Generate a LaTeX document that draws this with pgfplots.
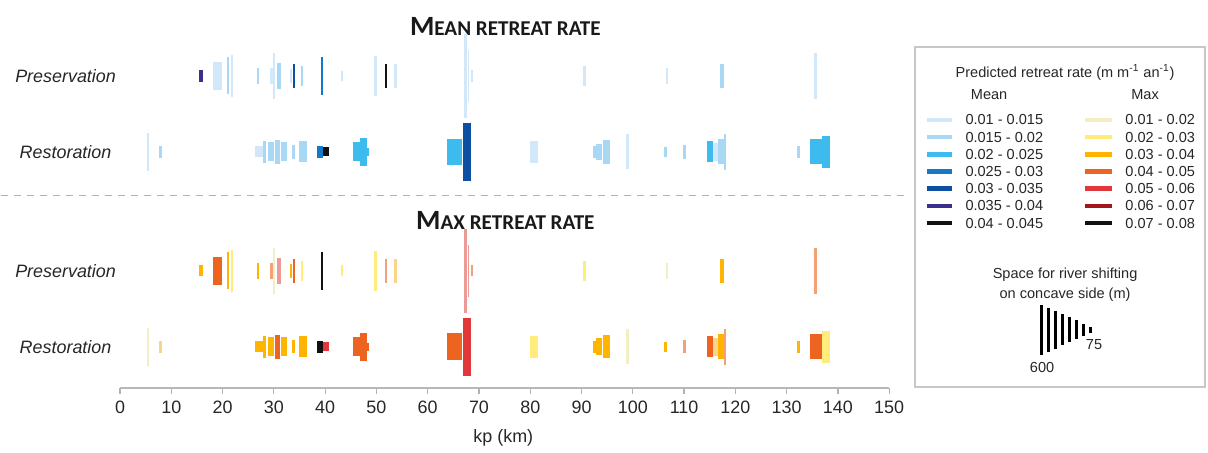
\documentclass[border=0pt]{standalone}
\usepackage{fontspec}
\setmainfont{Liberation Sans}
\newfontfamily\titlefont{Carlito}
\usepackage{pgfplots}
\usepackage{pgfplotstable}
\pgfplotsset{compat=1.18}

% retreat-rate classes, mean (blues) and max (yellow to red)
\definecolor{meanA}{HTML}{D2E8F8}
\definecolor{meanB}{HTML}{A9D8F4}
\definecolor{meanC}{HTML}{3DBAEE}
\definecolor{meanD}{HTML}{1479C9}
\definecolor{meanE}{HTML}{0D4FA0}
\definecolor{meanF}{HTML}{3B2F8C}
\definecolor{meanG}{HTML}{111111}
\definecolor{maxA}{HTML}{F4EEC4}
\definecolor{maxB}{HTML}{FFEC7A}
\definecolor{maxC}{HTML}{FFB400}
\definecolor{maxD}{HTML}{EC6420}
\definecolor{maxE}{HTML}{E0383A}
\definecolor{maxF}{HTML}{A3141B}
\definecolor{maxG}{HTML}{111111}
\definecolor{maxCl}{HTML}{F9D58A}
\definecolor{maxDl}{HTML}{F2A07A}
\definecolor{maxEl}{HTML}{EC9A95}

% reaches: start/end kp (km), space for shifting (m), class of mean and max rate
\pgfplotstableread{
x0 x1 space mean max
15.46 16.24 135 meanF maxC
18.19 19.88 340 meanA maxD
20.80 21.31 445 meanB maxC
21.70 22.03 505 meanA maxB
26.76 27.15 200 meanB maxC
29.24 29.77 190 meanA maxDl
29.86 30.25 560 meanA maxA
30.64 31.42 320 meanB maxEl
33.08 33.47 160 meanA maxC
33.78 34.17 290 meanE maxD
35.34 35.73 240 meanB maxB
39.24 39.57 455 meanD maxG
43.12 43.52 130 meanA maxB
49.51 50.15 480 meanA maxB
51.71 52.09 280 meanG maxDl
53.41 54.05 295 meanA maxCl
67.06 67.58 1000 meanA maxEl
67.78 68.15 630 meanA maxEl
68.36 68.87 135 meanA maxDl
90.20 90.78 240 meanA maxB
106.40 106.80 200 meanA maxA
117.10 117.74 280 meanB maxC
135.34 135.93 560 meanA maxDl
}\preservation

\pgfplotstableread{
x0 x1 space mean max
5.20 5.65 450 meanA maxA
7.66 8.19 140 meanB maxCl
26.32 27.82 130 meanA maxC
27.93 28.46 270 meanB maxC
28.91 30.02 230 meanB maxC
30.21 31.19 290 meanB maxD
31.33 32.61 230 meanB maxC
33.47 34.17 160 meanB maxC
34.95 36.51 250 meanB maxC
38.46 39.51 140 meanD maxG
39.63 40.80 110 meanG maxE
45.36 46.78 230 meanC maxD
46.78 48.19 340 meanC maxD
48.19 48.58 100 meanC maxD
63.80 66.71 320 meanC maxD
66.92 68.36 700 meanE maxE
79.92 81.42 270 meanA maxB
92.26 92.79 140 meanB maxC
92.79 93.90 200 meanB maxC
94.21 95.52 280 meanB maxC
98.64 99.28 420 meanA maxA
106.08 106.74 125 meanB maxC
109.81 110.33 160 meanB maxDl
114.48 115.65 250 meanC maxD
115.65 116.63 210 meanA maxCl
116.63 117.74 300 meanB maxC
117.74 118.13 430 meanB maxDl
132.09 132.67 150 meanB maxC
134.50 136.96 300 meanC maxD
136.96 138.40 380 meanC maxB
}\restoration

% size key: bar positions and space for shifting (m)
\pgfplotstableread{
x0 x1 space colour
1040.0 1043.0 600 black
1047.0 1050.0 525 black
1054.0 1057.0 450 black
1061.0 1064.0 375 black
1068.0 1071.0 300 black
1075.0 1078.0 225 black
1082.0 1085.0 150 black
1089.0 1092.0 75 black
}\sizekey

% one filled bar per reach, centred on the row; 12 m of space per unit of height
\newcommand\drawrow[3]{%
  \pgfplotstablegetrowsof{#1}%
  \pgfmathtruncatemacro\lastrow{\pgfplotsretval-1}%
  \pgfplotsforeachungrouped \rowi in {0,...,\lastrow}{%
    \pgfplotstablegetelem{\rowi}{x0}\of{#1}\let\xa\pgfplotsretval
    \pgfplotstablegetelem{\rowi}{x1}\of{#1}\let\xb\pgfplotsretval
    \pgfplotstablegetelem{\rowi}{space}\of{#1}\let\spc\pgfplotsretval
    \pgfplotstablegetelem{\rowi}{#3}\of{#1}\let\barcol\pgfplotsretval
    \pgfmathsetmacro\ylo{#2-\spc/24}%
    \pgfmathsetmacro\yhi{#2+\spc/24}%
    \edef\doplot{\noexpand\addplot[draw=none, fill=\barcol, forget plot]
      coordinates {(\xa,\ylo) (\xb,\ylo) (\xb,\yhi) (\xa,\yhi)};}%
    \doplot
  }%
}

\begin{document}
\begin{tikzpicture}[x=0.5bp, y=0.5bp]
\path (0,0) rectangle (1208,450);

\begin{axis}[
  at={(59.75bp,31bp)}, anchor=south west,
  scale only axis, width=384.75bp, height=194bp,
  xmin=0, xmax=150, ymin=62, ymax=450,
  clip=false,
  axis y line=none, ytick=\empty,
  axis x line*=bottom,
  x axis line style={-, draw=black!28, line width=0.9bp},
  xtick={0,10,...,150},
  xtick align=outside,
  major tick length=3bp,
  tick style={draw=black!30, line width=0.6bp},
  xticklabel style={font=\fontsize{9}{10}\selectfont, text=black!85},
  /pgf/number format/assume math mode=true,
]
\drawrow{\preservation}{374}{mean}
\drawrow{\restoration}{298}{mean}
\drawrow{\preservation}{179}{max}
\drawrow{\restoration}{103}{max}
\end{axis}

% x label, panel titles, row names, separator
\node[font=\fontsize{9}{10}\selectfont, text=black!85] at (503,12) {kp (km)};
\node[text=black!90] at (505,424) {\titlefont\bfseries\fontsize{14}{15}\selectfont M\fontsize{10.6}{12}\selectfont EAN RETREAT RATE};
\node[text=black!90] at (505,229) {\titlefont\bfseries\fontsize{14}{15}\selectfont M\fontsize{10.6}{12}\selectfont AX RETREAT RATE};
\foreach \yy/\txt in {374/Preservation, 298/Restoration, 179/Preservation, 103/Restoration}
  \node[font=\itshape\fontsize{9}{10}\selectfont, text=black!85] at (65,\yy) {\txt};
\draw[black!30, line width=0.6bp, dash pattern=on 3.5bp off 3bp] (0,254) -- (905,254);

% colour key
\draw[black!22, line width=0.7bp] (915,63) rectangle (1205,403);
\begin{scope}[every node/.style={font=\fontsize{7.3}{8}\selectfont, text=black!85}]
\node at (1065,377) {Predicted retreat rate (m m\textsuperscript{-1} an\textsuperscript{-1})};
\node at (989,355) {Mean};
\node at (1145,355) {Max};
\foreach \c/\t [count=\i] in {meanA/0.01 - 0.015, meanB/0.015 - 0.02, meanC/0.02 - 0.025,
    meanD/0.025 - 0.03, meanE/0.03 - 0.035, meanF/0.035 - 0.04, meanG/0.04 - 0.045}{
  \draw[\c, line width=2.2bp] (927,347.2-17.2*\i) -- (952,347.2-17.2*\i);
  \node[anchor=west, inner sep=0pt] at (965,347.2-17.2*\i) {\t};
}
\foreach \c/\t [count=\i] in {maxA/0.01 - 0.02, maxB/0.02 - 0.03, maxC/0.03 - 0.04,
    maxD/0.04 - 0.05, maxE/0.05 - 0.06, maxF/0.06 - 0.07, maxG/0.07 - 0.08}{
  \draw[\c, line width=2.2bp] (1085,347.2-17.2*\i) -- (1112,347.2-17.2*\i);
  \node[anchor=west, inner sep=0pt] at (1125,347.2-17.2*\i) {\t};
}
\node at (1065,175) {Space for river shifting};
\node at (1065,155) {on concave side (m)};
\node at (1042,82) {600};
\node at (1094,105) {75};
\end{scope}

% size key bars
\begin{axis}[
  at={(518bp,42.5bp)}, anchor=south west,
  scale only axis, width=29bp, height=35bp,
  xmin=1036, xmax=1094, ymin=85, ymax=155,
  hide axis, clip=false,
]
\drawrow{\sizekey}{120}{colour}
\end{axis}
\end{tikzpicture}
\end{document}
